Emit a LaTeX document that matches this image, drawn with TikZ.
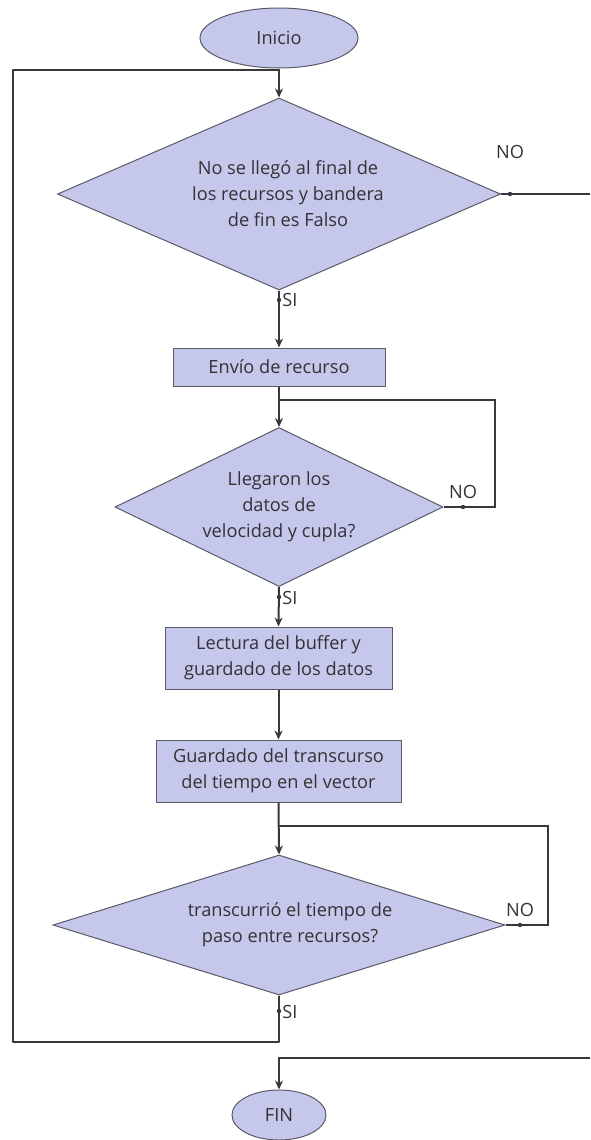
\documentclass[tikz,border=0pt]{standalone}
\usepackage{fontspec}
\setmainfont{Open Sans}
\usetikzlibrary{shapes.geometric,arrows.meta}
\definecolor{shapefill}{RGB}{197,200,234}
\definecolor{shapeline}{RGB}{90,90,105}
\definecolor{lineclr}{RGB}{55,55,60}
\definecolor{txt}{RGB}{50,50,55}
\begin{document}
\begin{tikzpicture}[x=0.5pt,y=-0.5pt,
  font=\fontsize{9.1}{13}\selectfont, text=txt,
  base/.style={fill=shapefill,draw=shapeline,line width=0.5pt,inner sep=0pt,align=center},
  term/.style={base,ellipse},
  proc/.style={base,rectangle},
  decis/.style={base,diamond},
  conn/.style={draw=lineclr,line width=1pt},
  arr/.style={conn,-{Stealth[length=4.5pt,width=4pt]}},
  dot/.style={circle,fill=lineclr,inner sep=0pt,minimum size=2.2pt},
  lbl/.style={inner sep=0pt}]
\useasboundingbox (0,0) rectangle (590,1140);

\node[term,minimum width=79pt,minimum height=30pt] (inicio) at (279,38) {Inicio};
\node[decis,shape aspect=2.31,minimum width=221.5pt,minimum height=96pt] (d1) at (279,194)
  {\hspace*{9pt}No se llegó al final de\\\hspace*{9pt}los recursos y bandera\\\hspace*{9pt}de fin es Falso};
\node[proc,minimum width=106pt,minimum height=19pt] (b1) at (279,367) {Envío de recurso};
\node[decis,shape aspect=2.06,minimum width=164pt,minimum height=79.5pt] (d2) at (279,507)
  {Llegaron los\\datos de\\velocidad y cupla?};
\node[proc,minimum width=113.5pt,minimum height=31pt] (b2) at (278.5,658)
  {Lectura del buffer y\\guardado de los datos};
\node[proc,minimum width=122.5pt,minimum height=31pt] (b3) at (278.5,771)
  {Guardado del transcurso\\del tiempo en el vector};
\node[decis,shape aspect=3.23,minimum width=226pt,minimum height=70pt] (d3) at (279,925)
  {\hspace*{11pt}transcurrió el tiempo de\\\hspace*{11pt}paso entre recursos?};
\node[term,minimum width=47pt,minimum height=25pt] (fin) at (279,1115) {FIN};

\coordinate (j0) at (279,70);
\coordinate (j1) at (279,400);
\coordinate (j2) at (279,826);
\coordinate (l1) at (279,1042);
\coordinate (l2) at (13,1042);
\coordinate (l3) at (13,70);
\coordinate (r1) at (590,194);
\coordinate (r2) at (590,1058);
\coordinate (f1) at (279,1058);
\coordinate (n2) at (495,507);
\coordinate (n3) at (548,925);

\draw[arr] (inicio.south) -- (d1.north);
\draw[arr] (d1.south) -- (b1.north);
\draw[arr] (b1.south) -- (d2.north);
\draw[arr] (d2.south) -- (b2.north);
\draw[arr] (b2.south) -- (b3.north);
\draw[arr] (b3.south) -- (d3.north);
\draw[conn] (d2.east) -- (n2) |- (j1);
\draw[conn] (d3.east) -- (n3) |- (j2);
\draw[conn,line join=round] (d3.south) -- (l1) -- (l2) -- (l3) -- (j0);
\draw[conn] (d1.east) -- (r1);
\draw[arr] (r2) -- (f1) -- (fin.north);

\node[dot] (p1) at (510,194) {};
\node[dot] (p2) at (279,300) {};
\node[dot] (p3) at (463,507) {};
\node[dot] (p4) at (279,597) {};
\node[dot] (p5) at (520,925) {};
\node[dot] (p6) at (279,1011) {};

\node[lbl] (no1) at (510,152) {NO};
\node[lbl,anchor=west] (si1) at (282,300) {SI};
\node[lbl] (no2) at (463,492) {NO};
\node[lbl,anchor=west] (si2) at (282,598) {SI};
\node[lbl] (no3) at (520,910) {NO};
\node[lbl,anchor=west] (si3) at (282,1012) {SI};
\end{tikzpicture}
\end{document}
